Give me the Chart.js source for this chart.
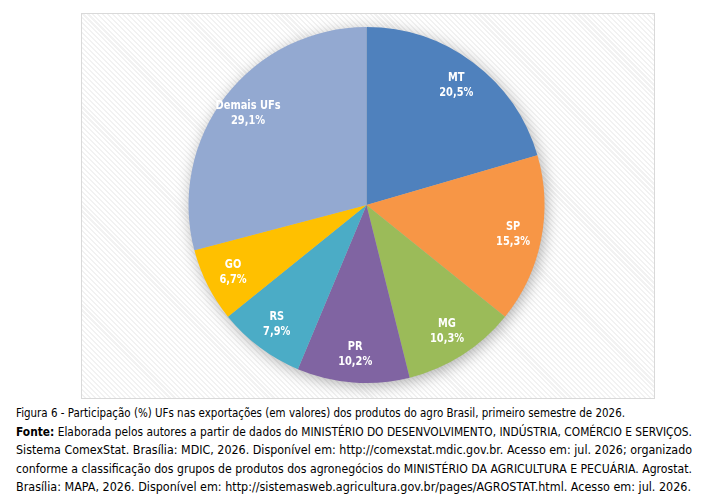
<!DOCTYPE html>
<html lang="pt-BR">
<head>
<meta charset="utf-8">
<script src="https://cdn.jsdelivr.net/npm/chart.js@4"></script>
<style>
	html, body {
		margin: 0;
		padding: 0;
		background: #ffffff;
	}
	body {
		width: 702px;
		height: 504px;
		position: relative;
		overflow: hidden;
		font-family: "DejaVu Sans", sans-serif;
	}
	#frame {
		position: absolute;
		left: 81px;
		top: 13px;
		width: 572px;
		height: 384px;
		border: 1px solid #d9d9d9;
		background: repeating-linear-gradient(45deg, #ffffff 0px, #ffffff 2px, #f2f2f2 2px, #f2f2f2 3.5px);
	}
	#caption {
		position: absolute;
		left: 16px;
		top: 404px;
		width: 676px;
		color: #000000;
		font-size: 12.5px;
		line-height: 18.5px;
	}
	#caption div {
		white-space: nowrap;
		transform-origin: 0 50%;
	}
</style>
</head>
<body>
<div id="frame"><canvas id="pieChart"></canvas></div>
<div id="caption">
	<div data-w="609">Figura 6 - Participação (%) UFs nas exportações (em valores) dos produtos do agro Brasil, primeiro semestre de 2026.</div>
	<div data-w="676"><b>Fonte:</b> Elaborada pelos autores a partir de dados do MINISTÉRIO DO DESENVOLVIMENTO, INDÚSTRIA, COMÉRCIO E SERVIÇOS.</div>
	<div data-w="676">Sistema ComexStat. Brasília: MDIC, 2026. Disponível em: http://comexstat.mdic.gov.br. Acesso em: jul. 2026; organizado</div>
	<div data-w="676">conforme a classificação dos grupos de produtos dos agronegócios do MINISTÉRIO DA AGRICULTURA E PECUÁRIA. Agrostat.</div>
	<div data-w="675">Brasília: MAPA, 2026. Disponível em: http://sistemasweb.agricultura.gov.br/pages/AGROSTAT.html. Acesso em: jul. 2026.</div>
</div>
<script>
const categories = ["MT", "SP", "MG", "PR", "RS", "GO", "Demais UFs"];
const shares = [20.5, 15.3, 10.3, 10.2, 7.9, 6.7, 29.1];
const sliceColors = ["#4f81bd", "#f79646", "#9bbb59", "#8064a2", "#4bacc6", "#ffc000", "#93a9d1"];

const fmtShare = (v) => v.toFixed(1).replace(".", ",") + "%";

// squeeze each caption line horizontally to the width it has in the figure
const fitCaption = () => {
	document.querySelectorAll("#caption div").forEach((line) => {
		line.style.display = "inline-block";
		const w = line.getBoundingClientRect().width;
		line.style.display = "block";
		const s = Number(line.dataset.w) / w;
		line.style.transform = "scaleX(" + s.toFixed(4) + ")";
	});
};

// soft shadow under the whole pie
const pieShadow = {
	id: "pieShadow",
	beforeDatasetsDraw(chart) {
		const arc = chart.getDatasetMeta(0).data[0];
		if (!arc) return;
		const ctx = chart.ctx;
		ctx.save();
		ctx.shadowColor = "rgba(0, 0, 0, 0.35)";
		ctx.shadowBlur = 16;
		ctx.shadowOffsetX = 2;
		ctx.shadowOffsetY = 3;
		ctx.fillStyle = "#bbbbbb";
		ctx.beginPath();
		ctx.arc(arc.x, arc.y, arc.outerRadius - 1, 0, Math.PI * 2);
		ctx.fill();
		ctx.restore();
	},
};

// name + value written inside each slice
const sliceLabels = {
	id: "sliceLabels",
	afterDatasetsDraw(chart) {
		const ctx = chart.ctx;
		const meta = chart.getDatasetMeta(0);
		ctx.save();
		ctx.fillStyle = "#ffffff";
		ctx.textAlign = "center";
		ctx.textBaseline = "middle";
		ctx.font = 'bold 12px "DejaVu Sans", sans-serif';
		meta.data.forEach((arc, i) => {
			const mid = (arc.startAngle + arc.endAngle) / 2;
			const r = arc.outerRadius * 0.84;
			const x = arc.x + Math.cos(mid) * r;
			const y = arc.y + Math.sin(mid) * r;
			ctx.save();
			ctx.translate(x, y);
			ctx.scale(0.82, 1);
			ctx.fillText(categories[i], 0, -7.5);
			ctx.fillText(fmtShare(shares[i]), 0, 7.5);
			ctx.restore();
		});
		ctx.restore();
	},
};

const initChart = () => {
	const canvas = document.getElementById("pieChart");

	return new Chart(canvas, {
		type: "pie",
		data: {
			labels: categories,
			datasets: [
				{
					data: shares,
					backgroundColor: sliceColors,
					borderWidth: 0,
				},
			],
		},
		options: {
			responsive: true,
			maintainAspectRatio: false,
			animation: false,
			layout: {
				padding: { top: 13, bottom: 15, left: 0, right: 3 },
			},
			plugins: {
				legend: { display: false },
				tooltip: { enabled: false },
			},
		},
		plugins: [pieShadow, sliceLabels],
	});
};

fitCaption();
initChart();
</script>
</body>
</html>
